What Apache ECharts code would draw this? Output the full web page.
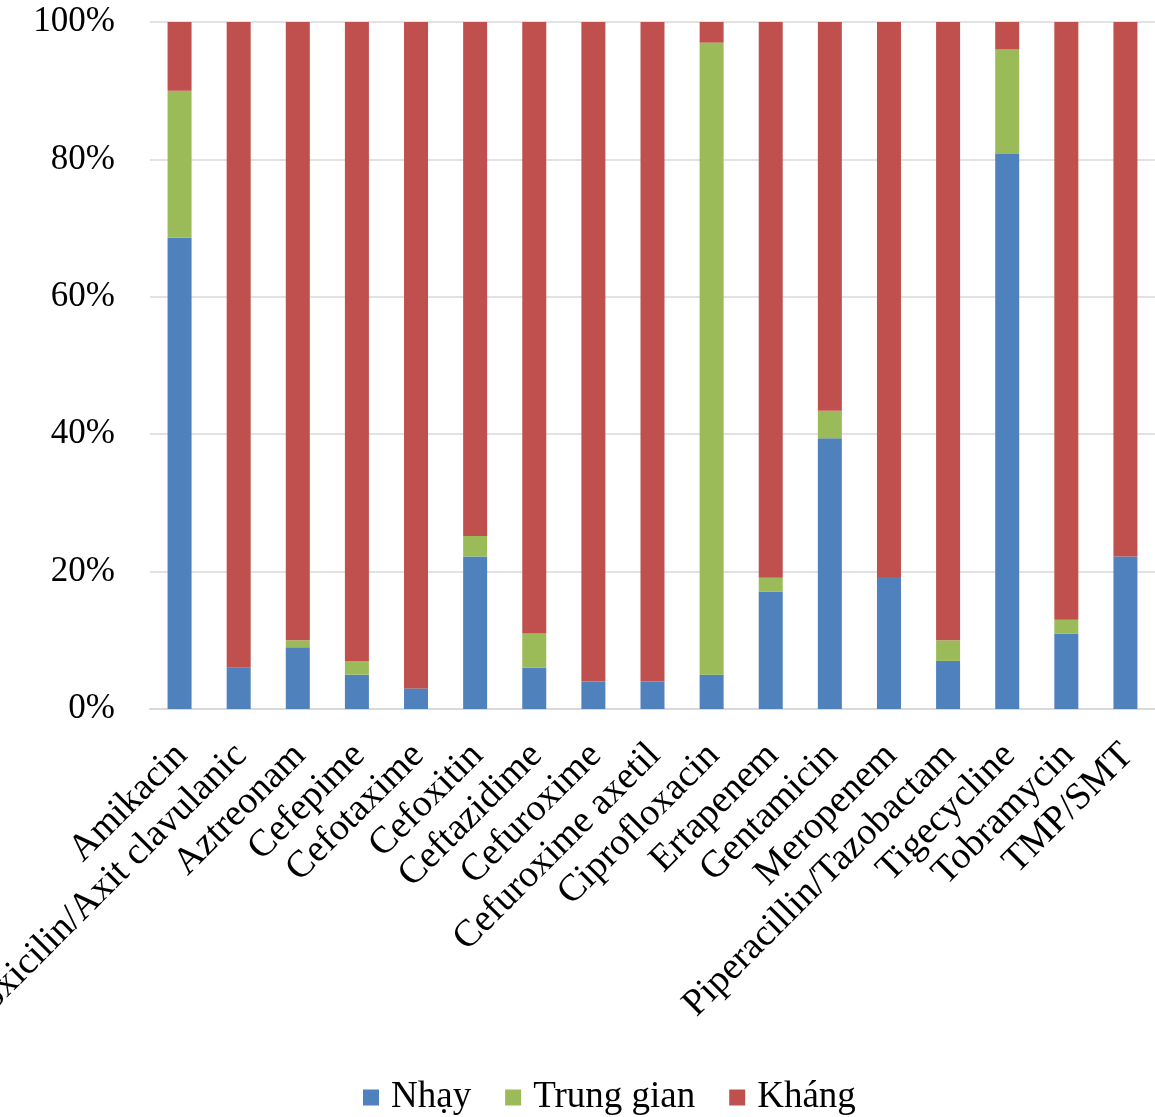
<!DOCTYPE html>
<html>
<head>
<meta charset="utf-8">
<script src="https://cdn.jsdelivr.net/npm/echarts@6/dist/echarts.min.js"></script>
<style>
html,body{margin:0;padding:0;background:#fff;}
#chart{width:1155px;height:1117px;}
</style>
</head>
<body>
<div id="chart"></div>
<script>
const categories = ["Amikacin","Amoxicilin/Axit clavulanic","Aztreonam","Cefepime","Cefotaxime","Cefoxitin","Ceftazidime","Cefuroxime","Cefuroxime axetil","Ciprofloxacin","Ertapenem","Gentamicin","Meropenem","Piperacillin/Tazobactam","Tigecycline","Tobramycin","TMP/SMT"];
const nhay = [68.6, 6, 9, 5, 3, 22.2, 6, 4, 4, 5, 17.1, 39.4, 19.2, 7, 80.8, 11, 22.2];
const trungGian = [21.4, 0, 1, 2, 0, 3, 5, 0, 0, 92, 2, 4, 0, 3, 15.2, 2, 0];
const khang = [10, 94, 90, 93, 97, 74.8, 89, 96, 96, 3, 80.9, 56.6, 80.8, 90, 4, 87, 77.8];
const yTicks = [0, 20, 40, 60, 80, 100];

const FONT = '"Liberation Serif","Times New Roman",serif';
const chart = echarts.init(document.getElementById('chart'));
function bar(name, data, color){
  return {name, type:'bar', stack:'t', data, barWidth:24, itemStyle:{color}};
}
chart.setOption({
  animation:false,
  textStyle:{fontFamily:FONT},
  grid:{left:150, right:0, top:22, bottom:408, containLabel:false, outerBoundsMode:'none'},
  legend:{
    bottom:-4, left:358, itemWidth:16, itemHeight:16, itemGap:34, icon:'rect',
    textStyle:{fontFamily:FONT, fontSize:37, color:'#000', padding:[0,0,0,7]},
    data:['Nhạy','Trung gian','Kháng']
  },
  xAxis:{
    type:'category', data:categories,
    axisLine:{lineStyle:{color:'#d9d9d9', width:2}},
    axisTick:{show:false},
    axisLabel:{rotate:45, interval:0, margin:16, verticalAlign:'top', align:'right',
      padding:[0,16,0,0], fontFamily:FONT, fontSize:38, color:'#000'}
  },
  yAxis:{
    type:'value', min:yTicks[0], max:yTicks[yTicks.length-1], interval:yTicks[1]-yTicks[0],
    axisLine:{show:false}, axisTick:{show:false},
    splitLine:{lineStyle:{color:'#d9d9d9', width:1.5}},
    axisLabel:{formatter:'{value}%', margin:35, fontFamily:FONT, fontSize:35, color:'#000'}
  },
  series:[
    bar('Nhạy', nhay, '#4F81BD'),
    bar('Trung gian', trungGian, '#9BBB59'),
    bar('Kháng', khang, '#C0504D')
  ]
});
</script>
</body>
</html>
